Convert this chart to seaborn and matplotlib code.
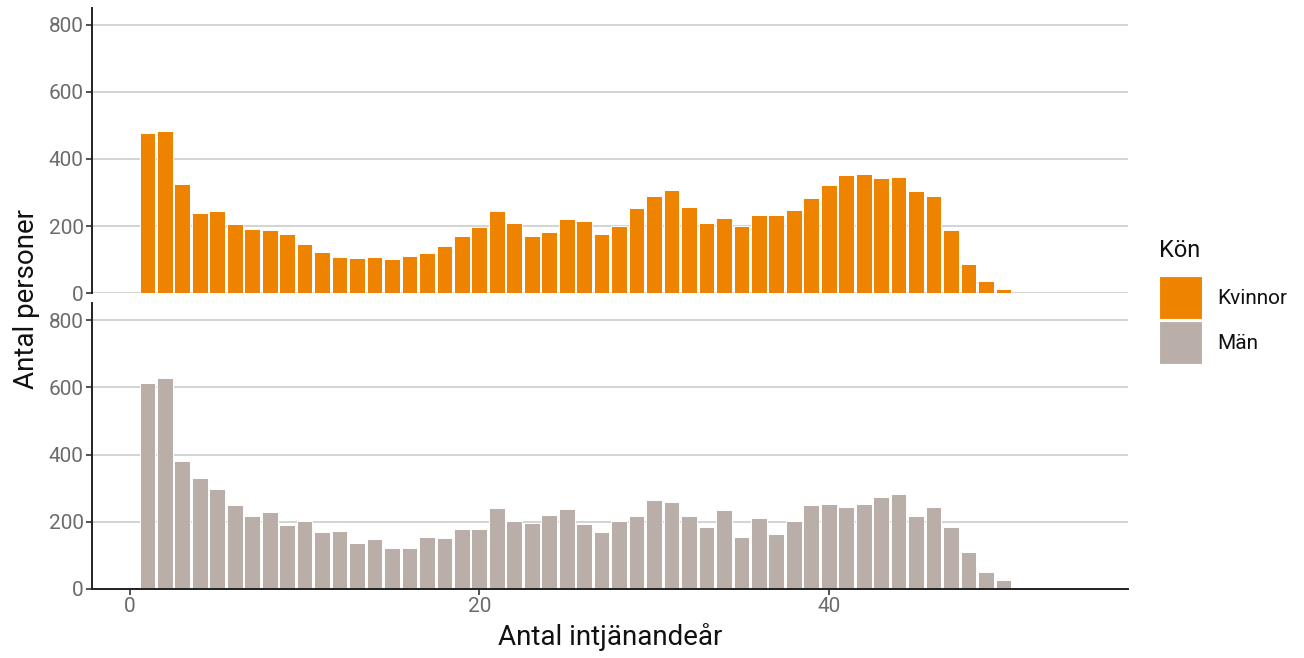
import numpy as np
import pandas as pd
import matplotlib
matplotlib.use("Agg")
import matplotlib.pyplot as plt
from matplotlib.patches import Patch
import seaborn as sns

# ---- data ----
years = list(range(1, 53))
kvinnor = [478, 484, 326, 238, 244, 205, 192, 189, 177, 147, 122, 108, 104, 108, 101,
           111, 120, 141, 171, 196, 244, 208, 171, 183, 220, 214, 177, 199, 254, 290,
           308, 256, 208, 223, 201, 232, 232, 248, 284, 323, 353, 356, 344, 347, 305,
           290, 189, 86, 38, 12, 2, 2]
man = [613, 629, 382, 331, 297, 250, 217, 228, 190, 201, 171, 174, 136, 150, 123,
       123, 156, 153, 180, 180, 241, 201, 197, 220, 237, 193, 171, 201, 217, 264,
       258, 217, 186, 235, 156, 211, 165, 201, 250, 252, 244, 252, 274, 282, 217,
       244, 186, 109, 50, 27, 2, 1]
groups = ["Kvinnor", "Män"]
colors = ["#EE8300", "#B9AFA8"]
y_ticks = [0, 200, 400, 600, 800]
x_ticks = [0, 20, 40]

df = pd.DataFrame({
    "year": years * 2,
    "count": kvinnor + man,
    "Kön": [groups[0]] * len(years) + [groups[1]] * len(years),
})

sns.set_theme(style="white")
plt.rcParams["font.family"] = ["Roboto", "DejaVu Sans"]

W, H = 1304, 658
fig = plt.figure(figsize=(W / 100, H / 100), dpi=100)
left = 92 / W
width = 1036 / W
ax_top = fig.add_axes([left, 1 - 293.3 / H, width, 285.6 / H])
ax_bot = fig.add_axes([left, 1 - 589 / H, width, 285.6 / H])

tick_gray = "#6b6b6b"
for ax, g, c in zip([ax_top, ax_bot], groups, colors):
    sub = df[df["Kön"] == g]
    sns.barplot(data=sub, x="year", y="count", color=c, native_scale=True,
                width=0.9, edgecolor="#ffffff", linewidth=0.7, saturation=1,
                errorbar=None, ax=ax)
    ax.set_xlim(-2.17, 57.13)
    ax.set_ylim(0, 850)
    ax.set_yticks(y_ticks)
    ax.set_xlabel("")
    ax.set_ylabel("")
    ax.set_axisbelow(True)
    ax.yaxis.grid(True, color="#CCCCCC", linewidth=1.2)
    ax.xaxis.grid(False)
    for s in ["top", "right"]:
        ax.spines[s].set_visible(False)
    ax.spines["left"].set_color("#222222")
    ax.spines["left"].set_linewidth(1.4)
    ax.tick_params(axis="y", length=4, width=1.2, color="#333333",
                   labelcolor=tick_gray, labelsize=15, pad=2, left=True)

ax_top.spines["bottom"].set_visible(False)
ax_top.set_xticks([])
ax_bot.spines["bottom"].set_color("#222222")
ax_bot.spines["bottom"].set_linewidth(1.4)
ax_bot.set_xticks(x_ticks)
ax_bot.tick_params(axis="x", length=4, width=1.2, color="#333333",
                   labelcolor=tick_gray, labelsize=15, pad=2, bottom=True)

fig.text(27 / W, 1 - 299 / H, "Antal personer", rotation=90, ha="center",
         va="center", fontsize=20, color="#111111")
fig.text(610 / W, 1 - 637 / H, "Antal intjänandeår", ha="center", va="center",
         fontsize=20, color="#111111")

# legend
fig.text(1159 / W, 1 - 257 / H, "Kön", ha="left", va="baseline",
         fontsize=17, color="#111111")
handles = [Patch(facecolor=c, edgecolor="white", linewidth=0.8) for c in colors]
leg = fig.legend(handles, groups, loc="upper left",
                 bbox_to_anchor=(1159 / W, 1 - 276 / H), frameon=False,
                 borderpad=0, borderaxespad=0, fontsize=15,
                 handlelength=2.06, handleheight=2.80, labelspacing=0.095,
                 handletextpad=0.75)
for t in leg.get_texts():
    t.set_color("#111111")

fig.savefig("out.png", dpi=100)
